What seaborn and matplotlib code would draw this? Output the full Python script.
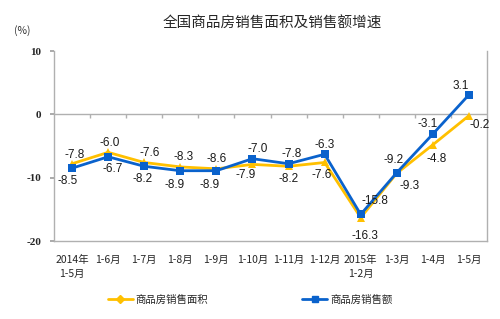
import matplotlib
matplotlib.use("Agg")
import matplotlib.pyplot as plt
import seaborn as sns
import pandas as pd
import numpy as np
from matplotlib.lines import Line2D

categories = ["2014年\n1-5月", "1-6月", "1-7月", "1-8月", "1-9月", "1-10月", "1-11月",
              "1-12月", "2015年\n1-2月", "1-3月", "1-4月", "1-5月"]
area = [-7.8, -6.0, -7.6, -8.3, -8.6, -7.9, -8.2, -7.6, -16.3, -9.3, -4.8, -0.2]
sales = [-8.5, -6.7, -8.2, -8.9, -8.9, -7.0, -7.8, -6.3, -15.8, -9.2, -3.1, 3.1]
series_names = ["商品房销售面积", "商品房销售额"]
yticks = [10, 0, -10, -20]

YELLOW = "#FFC000"
BLUE = "#0A62CC"

sns.set_theme(style="white")
plt.rcParams['font.family'] = ['Noto Sans CJK SC', 'DejaVu Sans']

df = pd.DataFrame({
    "idx": list(range(len(categories))) * 2,
    "value": area + sales,
    "series": [series_names[0]] * len(area) + [series_names[1]] * len(sales),
})

fig = plt.figure(figsize=(5.0, 3.19), dpi=100)
ax = fig.add_axes([0.108, 0.2445, 0.866, 0.5955])

sns.lineplot(data=df, x="idx", y="value", hue="series", style="series",
             palette={series_names[0]: YELLOW, series_names[1]: BLUE},
             markers={series_names[0]: "^", series_names[1]: "s"},
             dashes=False, linewidth=2.0, markersize=6, markeredgewidth=0,
             ax=ax, legend=False, zorder=3)

ax.set_xlim(-0.5, len(categories) - 0.5)
ax.set_ylim(-20, 10)
ax.set_yticks(yticks)
ax.set_yticklabels([str(t) for t in yticks], fontsize=8, family=['Liberation Serif'],
                   fontweight="bold")
ax.set_xticks(range(len(categories)))
ax.set_xticklabels(categories, fontsize=7.5, linespacing=1.5)
ax.tick_params(axis='x', length=0, pad=10)
ax.tick_params(axis='y', length=3, color="#A0A0A0", left=True, pad=6)
ax.set_xlabel("")
ax.set_ylabel("")

for s in ["left", "right", "bottom"]:
    ax.spines[s].set_color("#B0B0B0")
    ax.spines[s].set_linewidth(1.0)
ax.spines["top"].set_visible(False)

ax.axhline(0, color="#B0B0B0", linewidth=1.0, zorder=1)
ax.vlines(np.arange(0.5, len(categories) - 0.5), -0.6, 0, color="#B0B0B0", linewidth=1.0, zorder=1)

# data labels (offsets in points)
area_off = [(2, 6), (1, 7), (4, 7), (2, 7), (0, 7), (-5, -8), (0, -9), (-2, -9),
            (3, -13), (9, -9), (3, -10), (8, -7)]
sales_off = [(-3, -9), (3, -9), (-1, -9), (-4, -10), (-5, -10), (4, 7), (2, 7),
             (0, 7), (10, 10), (-2, 9), (-4, 7), (-6, 6)]

for i, v in enumerate(area):
    ax.annotate(f"{v:.1f}", (i, v), xytext=area_off[i], textcoords="offset points",
                ha="center", va="center", fontsize=8.5, color="#1a1a1a",
                family=['Liberation Sans'], zorder=5)
for i, v in enumerate(sales):
    ax.annotate(f"{v:.1f}", (i, v), xytext=sales_off[i], textcoords="offset points",
                ha="center", va="center", fontsize=8.5, color="#1a1a1a",
                family=['Liberation Sans'], zorder=5)

fig.text(0.545, 0.925, "全国商品房销售面积及销售额增速", ha="center", va="center", fontsize=10.5)
fig.text(0.045, 0.903, "(%)", ha="center", va="center", fontsize=7.5, color="#333333")

handles = [Line2D([], [], color=YELLOW, marker="D", markersize=4, linewidth=2),
           Line2D([], [], color=BLUE, marker="s", markersize=5, linewidth=2)]
fig.legend(handles, series_names, loc="center", bbox_to_anchor=(0.5, 0.06), ncol=2,
           frameon=False, fontsize=7.5, columnspacing=9, handlelength=2.4, handletextpad=0.3)

fig.savefig("out.png", dpi=100)
